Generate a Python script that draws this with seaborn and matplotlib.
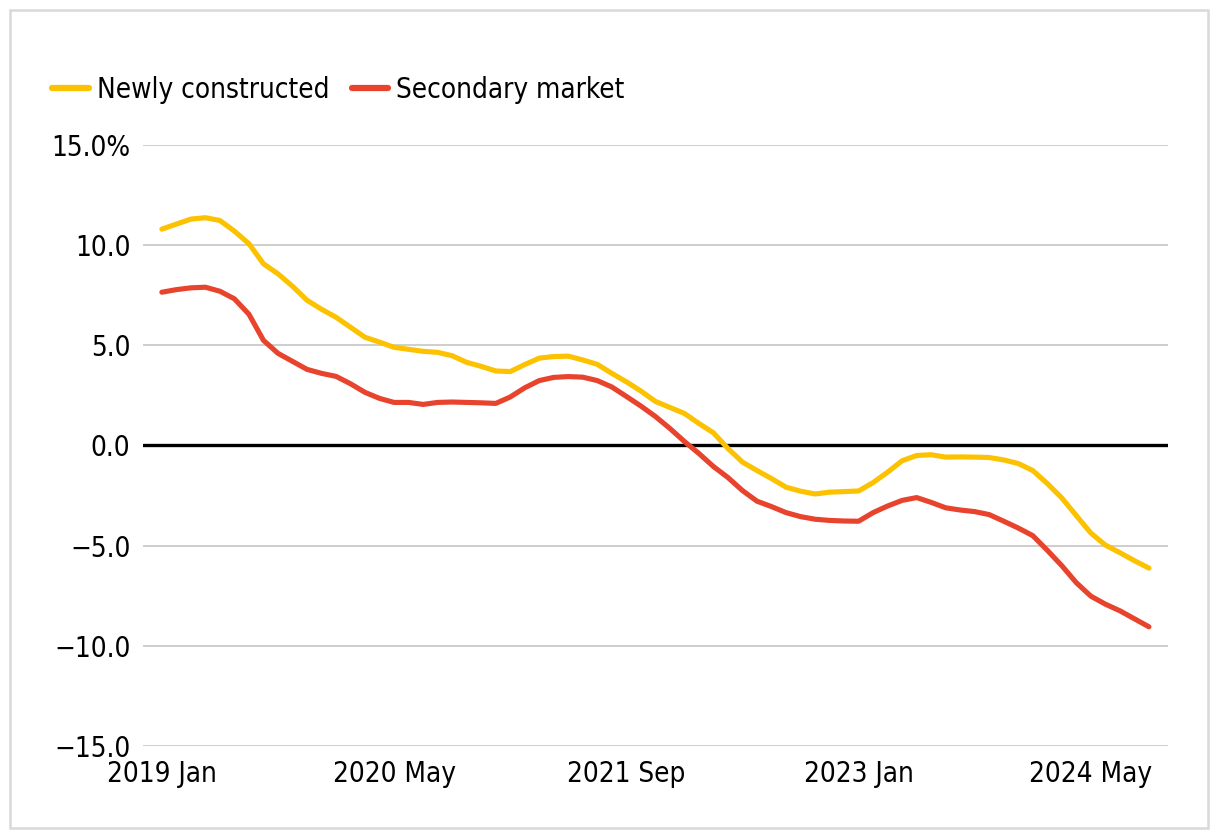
import numpy as np
import pandas as pd
import matplotlib
matplotlib.use("Agg")
import matplotlib.pyplot as plt
import seaborn as sns
from matplotlib.patches import Rectangle

sns.set_style("white")
plt.rcParams['font.family'] = ['DejaVu Sans']
plt.rcParams['font.stretch'] = 'condensed'
plt.rcParams['text.color'] = 'black'

# monthly data, 2019 Jan .. 2024 Sep
tick_pos = [0, 16, 32, 48, 64]
tick_labels = ["2019 Jan", "2020 May", "2021 Sep", "2023 Jan", "2024 May"]

newly_constructed = [
    10.8, 11.05, 11.3, 11.37, 11.23, 10.7, 10.07, 9.07, 8.57, 7.95,
    7.25, 6.8, 6.4, 5.9, 5.4, 5.16, 4.9, 4.8, 4.7, 4.65,
    4.48, 4.15, 3.95, 3.72, 3.69, 4.04, 4.36, 4.44, 4.46, 4.27,
    4.05, 3.6, 3.18, 2.72, 2.2, 1.9, 1.6, 1.1, 0.63, -0.15,
    -0.83, -1.25, -1.65, -2.08, -2.28, -2.42, -2.33, -2.3, -2.27, -1.85,
    -1.33, -0.76, -0.5, -0.46, -0.58, -0.57, -0.58, -0.6, -0.72, -0.9,
    -1.25, -1.9, -2.62, -3.5, -4.37, -4.97, -5.35, -5.75, -6.12,
]
secondary_market = [
    7.65, 7.78, 7.87, 7.9, 7.7, 7.32, 6.55, 5.25, 4.6, 4.2,
    3.8, 3.6, 3.45, 3.08, 2.65, 2.35, 2.15, 2.15, 2.05, 2.15,
    2.17, 2.15, 2.13, 2.1, 2.42, 2.88, 3.24, 3.4, 3.44, 3.41,
    3.24, 2.92, 2.45, 1.97, 1.45, 0.85, 0.2, -0.4, -1.05, -1.6,
    -2.25, -2.78, -3.05, -3.35, -3.55, -3.68, -3.74, -3.77, -3.78, -3.35,
    -3.02, -2.74, -2.6, -2.84, -3.11, -3.22, -3.3, -3.45, -3.78, -4.12,
    -4.5, -5.23, -6.0, -6.85, -7.52, -7.92, -8.25, -8.65, -9.05,
]

yticks = [15, 10, 5, 0, -5, -10, -15]
ytick_labels = ["15.0%", "10.0", "5.0", "0.0", "\u22125.0", "\u221210.0", "\u221215.0"]

months = np.arange(len(newly_constructed))
df = pd.DataFrame({
    "month": np.concatenate([months, months]),
    "value": newly_constructed + secondary_market,
    "series": ["Newly constructed"] * len(months) + ["Secondary market"] * len(months),
})

palette = {"Newly constructed": "#FCC200", "Secondary market": "#E8432D"}

fig = plt.figure(figsize=(12.2, 8.4), dpi=100)
ax = fig.add_axes([0.1172, 0.1119, 0.840, 0.7155])

for y in yticks:
    if y != 0:
        ax.axhline(y, color="#C6C6C6", lw=1.2, zorder=0)
ax.axhline(0, color="black", lw=2.4, zorder=1)

sns.lineplot(data=df, x="month", y="value", hue="series", palette=palette,
             linewidth=3.7, ax=ax, legend=False, zorder=3)

ax.set_xlim(-1.3, 69.3)
ax.set_ylim(-15, 15)
ax.set_xticks(tick_pos)
ax.set_xticklabels(tick_labels)
ax.set_yticks(yticks)
ax.set_yticklabels(ytick_labels)
ax.tick_params(axis="both", length=0, labelsize=20, colors="black")
ax.tick_params(axis="y", pad=9)
ax.tick_params(axis="x", pad=10)
ax.set_xlabel("")
ax.set_ylabel("")
sns.despine(ax=ax, left=True, bottom=True)

handles = [plt.Line2D([], [], color=palette[k], lw=4.5, solid_capstyle="round") for k in palette]
fig.legend(handles, list(palette.keys()), loc="center left",
           bbox_to_anchor=(0.043, 1 - 90 / 840), ncol=2, frameon=False,
           fontsize=20, handlelength=1.3, handletextpad=0.3, columnspacing=0.8,
           borderpad=0, borderaxespad=0)

fig.add_artist(Rectangle((10 / 1220, 12 / 840), 1198 / 1220, 818 / 840,
                         transform=fig.transFigure, fill=False,
                         edgecolor="#D9D9D9", lw=1.8))

fig.savefig("out.png", dpi=100)
